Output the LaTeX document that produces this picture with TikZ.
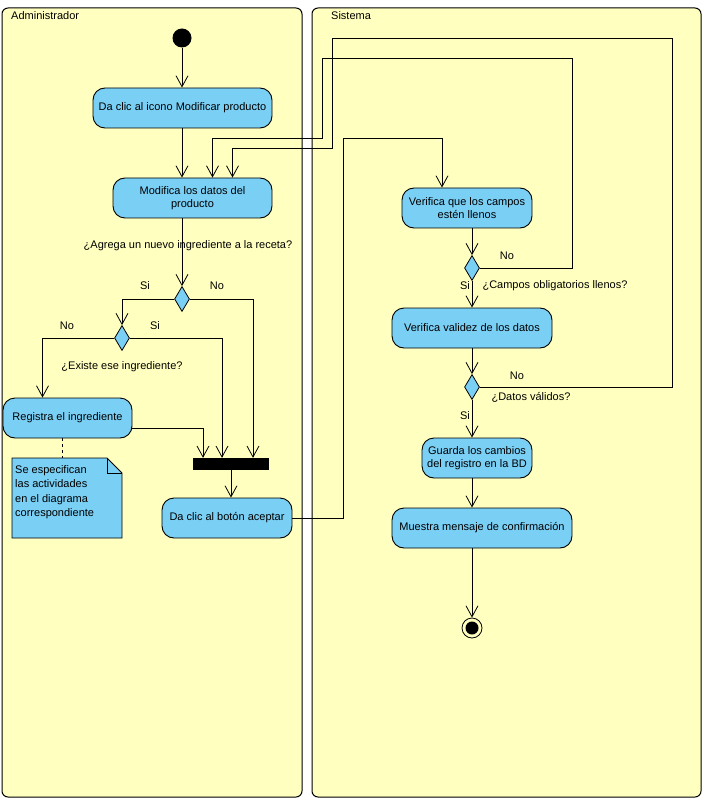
\documentclass[tikz,border=0pt]{standalone}
\usepackage{fontspec}
\setmainfont{Liberation Sans}
\usetikzlibrary{positioning, shapes.geometric, arrows.meta}
\definecolor{lanefill}{HTML}{FFFFC0}
\definecolor{actblue}{HTML}{7ACFF5}

\begin{document}
\begin{tikzpicture}[
        x=1pt, y=-1pt,
        font=\fontsize{11}{13}\selectfont,
        lane/.style={draw, line width=1pt, fill=lanefill, rounded corners=6pt},
        act/.style={rectangle, draw, fill=actblue, rounded corners=12pt, line width=0.9pt,
                    minimum height=40pt, align=center, inner sep=2pt},
        dec/.style={diamond, draw, fill=actblue, inner sep=0pt, line width=0.8pt,
                    minimum width=15pt, minimum height=25pt},
        joinbar/.style={rectangle, fill=black, inner sep=0pt, minimum width=76pt, minimum height=12pt},
        initnode/.style={circle, fill=black, inner sep=0pt, minimum size=19pt},
        finalnode/.style={circle, draw, fill=lanefill, inner sep=0pt, minimum size=20pt, line width=0.8pt},
        finalcore/.style={circle, fill=black, inner sep=0pt, minimum size=13pt},
        notebox/.style={draw, fill=actblue, line width=0.9pt},
        lbl/.style={inner sep=1pt},
        arrow/.style={-{Straight Barb[length=11pt, width=12pt]}, line width=0.8pt}
    ]
    \useasboundingbox (0,0) rectangle (706,802);

    % Carriles
    \draw[lane] (2,8) rectangle (302,797);
    \draw[lane] (312,8) rectangle (701,797);
    \node[anchor=west, inner sep=1pt] (tadmin) at (10,16) {Administrador};
    \node[anchor=west, inner sep=1pt] (tsis) at (330,16) {Sistema};

    % Administrador
    \node[initnode] (init) at (182,38) {};
    \node[act, minimum width=179pt] (icono) at (182.5,108) {Da clic al icono Modificar producto};
    \node[act, minimum width=159pt] (modifica) at (192.5,198) {Modifica los datos del\\producto};
    \node[dec] (dec1) at (182,299) {};
    \node[dec] (dec2) at (122,338) {};
    \node[act, minimum width=129pt] (registra) at (67.5,418) {Registra el ingrediente};
    \node[joinbar] (join) at (231,464) {};
    \node[act, minimum width=130pt] (aceptar) at (227,518) {Da clic al botón aceptar};

    \draw[notebox] (12,458) -- (107,458) -- (122,473) -- (122,538) -- (12,538) -- cycle;
    \draw[line width=0.8pt] (107,458) |- (122,473);
    \node[anchor=north west, align=left, inner sep=3pt,
          font=\fontsize{11}{14.6}\selectfont] (note) at (12,462)
          {Se especifican\\las actividades\\en el diagrama\\correspondiente};

    \node[lbl] (qagrega) at (188,246) {¿Agrega un nuevo ingrediente a la receta?};
    \node[lbl] (si1) at (145,286) {Si};
    \node[lbl] (no1) at (217,286) {No};
    \node[lbl] (no2) at (67,326) {No};
    \node[lbl] (si2) at (155,326) {Si};
    \node[lbl] (qexiste) at (122,367) {¿Existe ese ingrediente?};

    % Sistema
    \node[act, minimum width=130pt] (verifica) at (467,208) {Verifica que los campos\\estén llenos};
    \node[dec] (dec3) at (472,268) {};
    \node[act, minimum width=160pt] (validez) at (472,328) {Verifica validez de los datos};
    \node[dec] (dec4) at (472,387) {};
    \node[act, minimum width=110pt] (guarda) at (477,458) {Guarda los cambios\\del registro en la BD};
    \node[act, minimum width=180pt] (muestra) at (482,528) {Muestra mensaje de confirmación};
    \node[finalnode] (fin) at (472,628) {};
    \node[finalcore] (fincore) at (fin) {};

    \node[lbl] (no3) at (507,256) {No};
    \node[lbl] (si3) at (465,286) {Si};
    \node[lbl] (qcampos) at (555,286) {¿Campos obligatorios llenos?};
    \node[lbl] (no4) at (517,376) {No};
    \node[lbl] (qdatos) at (531,397) {¿Datos válidos?};
    \node[lbl] (si4) at (465,416) {Si};

    % Flujo del administrador
    \draw[arrow] (init) -- (init |- icono.north);
    \draw[arrow] (icono.south -| init) -- (init |- modifica.north);
    \draw[arrow] (modifica.south -| dec1) -- (dec1.north);
    \draw[arrow] (dec1.west) -| (dec2.north);
    \draw[arrow] (dec1.east) -| ([xshift=22pt]join.north);
    \draw[arrow] (dec2.west) -| ([xshift=-25pt]registra.north);
    \draw[arrow] (dec2.east) -| ([xshift=-9pt]join.north);
    \draw[arrow] ([yshift=-10pt]registra.east) -| ([xshift=-28pt]join.north);
    \draw[arrow] (join.south) -- (join.south |- aceptar.north);
    \draw[dashed, line width=0.8pt] ([xshift=-5pt]registra.south) -- ([xshift=-5pt]registra.south |- 0,458);

    % Flujo del sistema
    \draw[arrow] (aceptar.east) -| (343,138) -| ([xshift=-25pt]verifica.north);
    \draw[arrow] (verifica.south -| dec3) -- (dec3.north);
    \draw[arrow] (dec3.south) -- (validez.north);
    \draw[arrow] (validez.south) -- (dec4.north);
    \draw[arrow] (dec4.south) -- (dec4.south |- guarda.north);
    \draw[arrow] (guarda.south -| dec4) -- (dec4 |- muestra.north);
    \draw[arrow] (muestra.south -| fin) -- (fin.north);

    % Regresos a la modificacion
    \draw[arrow] (dec3.east) -| (572,58) -| (322,138) -| ([xshift=20pt]modifica.north);
    \draw[arrow] (dec4.east) -| (672,38) -| (332,148) -| ([xshift=40pt]modifica.north);
\end{tikzpicture}
\end{document}
